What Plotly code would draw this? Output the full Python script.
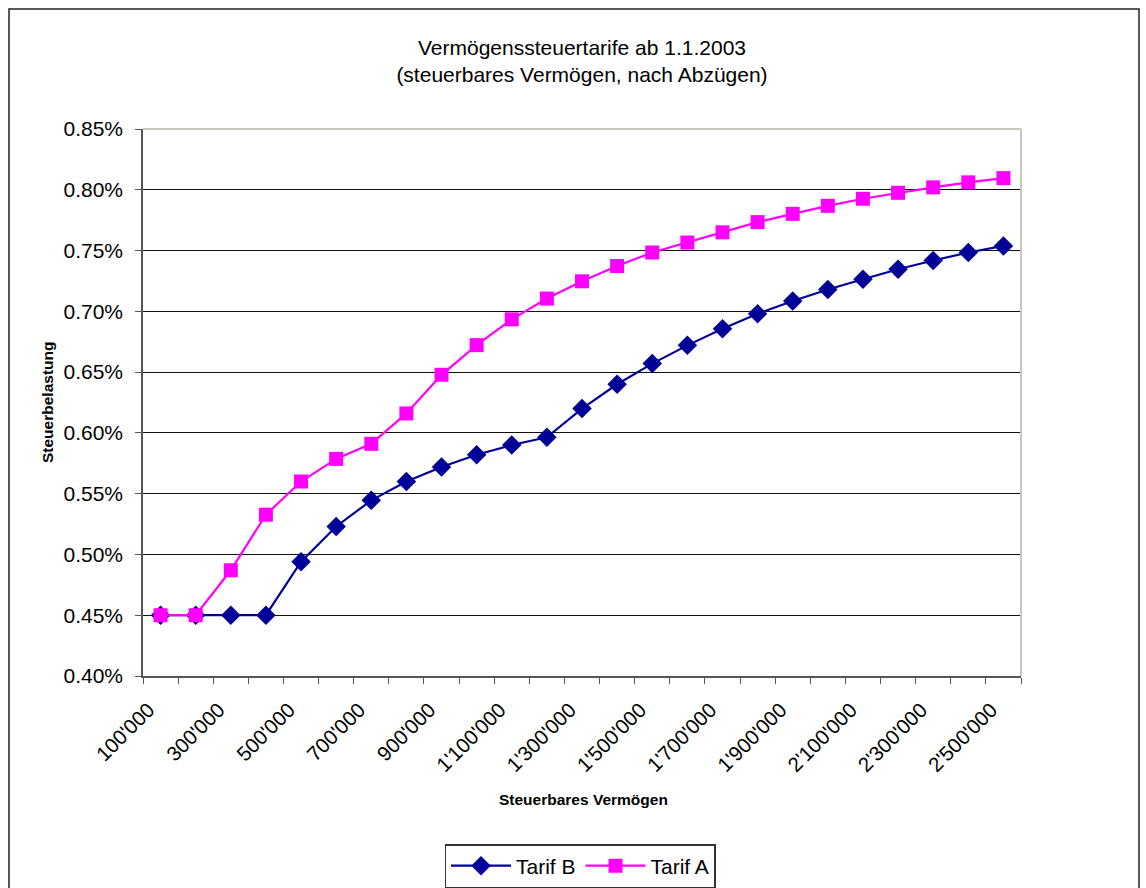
import plotly.graph_objects as go

# Steuerbares Vermögen (CHF), one category each
vermoegen = [100000, 200000, 300000, 400000, 500000, 600000, 700000, 800000, 900000,
             1000000, 1100000, 1200000, 1300000, 1400000, 1500000, 1600000, 1700000,
             1800000, 1900000, 2000000, 2100000, 2200000, 2300000, 2400000, 2500000]

# Steuerbelastung in percent
tarif_b = [0.450, 0.450, 0.450, 0.450, 0.494, 0.523, 0.5445, 0.560, 0.572, 0.582,
           0.590, 0.5964, 0.620, 0.640, 0.657, 0.672, 0.6857, 0.698, 0.7085, 0.718,
           0.7264, 0.7346, 0.7418, 0.7484, 0.7538]
tarif_a = [0.450, 0.450, 0.487, 0.5327, 0.560, 0.5786, 0.591, 0.616, 0.6478, 0.6722,
           0.6934, 0.7105, 0.7247, 0.7373, 0.7484, 0.7566, 0.765, 0.7734, 0.7802, 0.7868,
           0.7926, 0.7975, 0.802, 0.8061, 0.8096]

tick_values = [100000, 300000, 500000, 700000, 900000, 1100000, 1300000, 1500000,
               1700000, 1900000, 2100000, 2300000, 2500000]
tick_labels = ["100'000", "300'000", "500'000", "700'000", "900'000", "1'100'000",
               "1'300'000", "1'500'000", "1'700'000", "1'900'000", "2'100'000",
               "2'300'000", "2'500'000"]
boundaries = [50000 + 100000 * k for k in range(26)]

FONT = "Liberation Sans, Arial, sans-serif"

fig = go.Figure()
fig.add_trace(go.Scatter(
    x=vermoegen, y=[v / 100 for v in tarif_b], name="Tarif B", mode="lines+markers",
    line=dict(color="#000099", width=2.2),
    marker=dict(symbol="diamond", size=15, color="#000099")))
fig.add_trace(go.Scatter(
    x=vermoegen, y=[v / 100 for v in tarif_a], name="Tarif A", mode="lines+markers",
    line=dict(color="#FF00FF", width=2.2),
    marker=dict(symbol="square", size=14, color="#FF00FF")))

W, H = 1146, 888
L, T = 143, 129
R = W - 1021
B = H - 676
pw, ph = W - L - R, H - T - B

def px_x(p):  # screen x -> paper x
    return (p - L) / pw

def px_y(p):  # screen y -> paper y
    return (H - B - p) / ph

fig.update_layout(
    width=W, height=H,
    margin=dict(l=L, r=R, t=T, b=B, autoexpand=False),
    paper_bgcolor="white", plot_bgcolor="white",
    font=dict(family=FONT, color="black", size=21),
    title=dict(text="Vermögenssteuertarife ab 1.1.2003<br>(steuerbares Vermögen, nach Abzügen)",
               x=0.5, xref="paper", xanchor="center",
               y=1 - 55 / H, yref="container", yanchor="middle",
               font=dict(size=21, family=FONT)),
    showlegend=True,
    legend=dict(orientation="h", x=px_x(580), xanchor="center", y=px_y(888), yanchor="bottom",
                bgcolor="white", bordercolor="#333333", borderwidth=1.5,
                font=dict(size=21, family=FONT), traceorder="normal", itemwidth=60),
    xaxis=dict(range=[50000, 2550000], tickmode="array", tickvals=tick_values,
               ticktext=tick_labels, tickangle=-45, ticks="", showgrid=False,
               showline=True, linecolor="#555555", linewidth=1.5, zeroline=False,
               tickfont=dict(size=20.5, family=FONT),
               ticklabelstandoff=12, ticklabelshift=-12,
               minor=dict(tickmode="array", tickvals=boundaries, ticks="outside",
                          ticklen=6, tickcolor="#555555", showgrid=False)),
    yaxis=dict(range=[0.004, 0.0085], dtick=0.0005, tick0=0.004, tickformat=".2%",
               ticks="outside", ticklen=6, tickcolor="#555555",
               showgrid=True, gridcolor="#111111", gridwidth=1,
               showline=True, linecolor="#555555", linewidth=1.5, zeroline=False,
               ticklabelstandoff=8,
               tickfont=dict(size=21, family=FONT)),
    annotations=[
        dict(text="<b>Steuerbares Vermögen</b>", x=px_x(583), xref="paper", y=px_y(800),
             yref="paper", showarrow=False, xanchor="center", yanchor="middle",
             font=dict(size=15.5, family=FONT)),
        dict(text="<b>Steuerbelastung</b>", x=px_x(47), xref="paper", y=px_y(403),
             yref="paper", showarrow=False, textangle=-90, xanchor="center",
             yanchor="middle", font=dict(size=15.5, family=FONT)),
    ],
    shapes=[
        # top and right edges of the plot area (light frame)
        dict(type="line", xref="paper", yref="paper", x0=0, x1=1, y0=1, y1=1,
             line=dict(color="#C8C8B8", width=2)),
        dict(type="line", xref="paper", yref="paper", x0=1, x1=1, y0=0, y1=1,
             line=dict(color="#C8C8B8", width=2)),
        # outer chart frame
        dict(type="rect", xref="paper", yref="paper",
             x0=px_x(9), x1=px_x(1139), y0=px_y(900), y1=px_y(9),
             line=dict(color="#222222", width=1.5)),
    ],
)

# remove the default 8px page margin so the figure fills the window exactly
fig.write_html("out.html", config={"displayModeBar": False},
               post_script="document.body.style.margin='0px';")
